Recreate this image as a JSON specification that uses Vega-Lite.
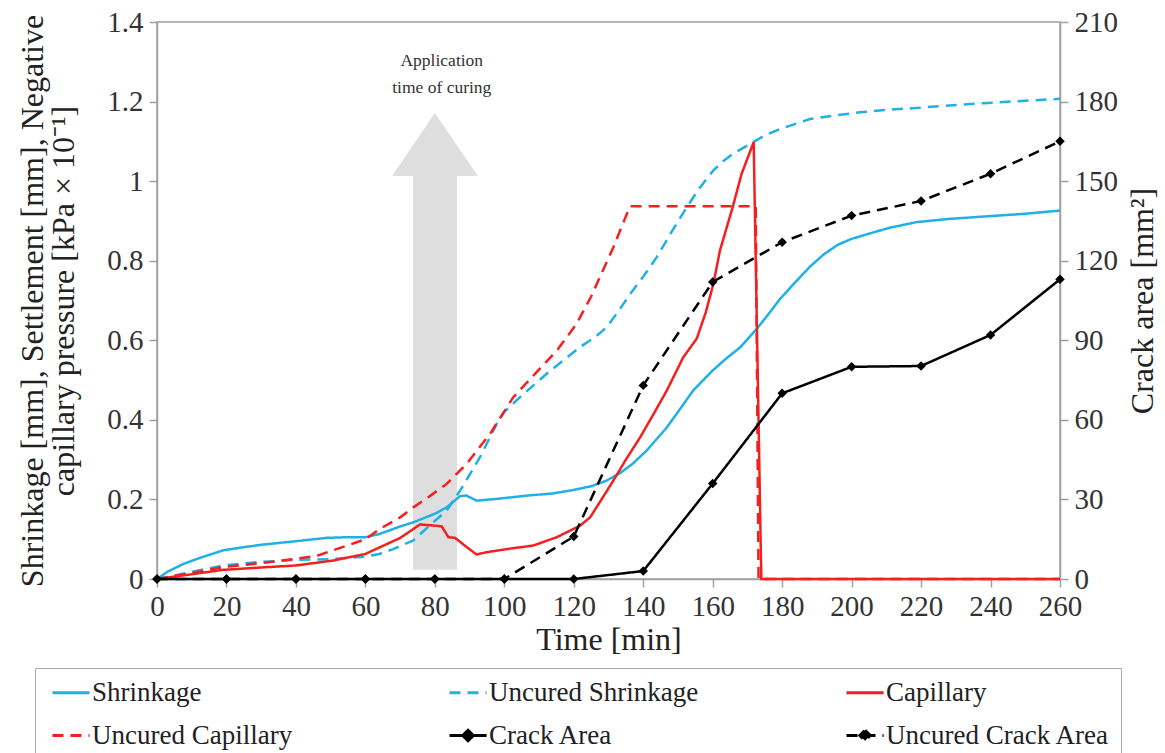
{
  "$schema": "https://vega.github.io/schema/vega-lite/v6.json",
  "width": 903,
  "height": 557,
  "autosize": {"type": "none"},
  "padding": {"left": 157, "top": 22, "right": 105, "bottom": 174},
  "background": "white",
  "config": {
    "view": {"stroke": "#a0a0a0", "strokeWidth": 1.5},
    "font": "Liberation Serif",
    "axis": {
      "domainColor": "#a0a0a0",
      "domainWidth": 1.5,
      "tickColor": "#a0a0a0",
      "tickWidth": 1.5,
      "tickSize": 8,
      "grid": false,
      "labelFont": "Liberation Serif",
      "labelFontSize": 29,
      "labelColor": "#333",
      "titleFont": "Liberation Serif",
      "titleFontSize": 32,
      "titleFontWeight": "normal",
      "titleColor": "#222"
    }
  },
  "datasets": {
    "lines": [
      {"series": "Shrinkage", "t": 0, "v": 0},
      {"series": "Shrinkage", "t": 3, "v": 0.018},
      {"series": "Shrinkage", "t": 7.6, "v": 0.038},
      {"series": "Shrinkage", "t": 12, "v": 0.052},
      {"series": "Shrinkage", "t": 19, "v": 0.072},
      {"series": "Shrinkage", "t": 25, "v": 0.08},
      {"series": "Shrinkage", "t": 30, "v": 0.086},
      {"series": "Shrinkage", "t": 40, "v": 0.095},
      {"series": "Shrinkage", "t": 49, "v": 0.1035},
      {"series": "Shrinkage", "t": 55, "v": 0.105},
      {"series": "Shrinkage", "t": 60, "v": 0.105},
      {"series": "Shrinkage", "t": 64, "v": 0.113},
      {"series": "Shrinkage", "t": 70, "v": 0.132},
      {"series": "Shrinkage", "t": 74, "v": 0.143},
      {"series": "Shrinkage", "t": 80, "v": 0.164},
      {"series": "Shrinkage", "t": 83.4, "v": 0.18},
      {"series": "Shrinkage", "t": 87.2, "v": 0.208},
      {"series": "Shrinkage", "t": 89, "v": 0.21},
      {"series": "Shrinkage", "t": 92, "v": 0.197},
      {"series": "Shrinkage", "t": 98, "v": 0.2015},
      {"series": "Shrinkage", "t": 107, "v": 0.21},
      {"series": "Shrinkage", "t": 114, "v": 0.215},
      {"series": "Shrinkage", "t": 120, "v": 0.224},
      {"series": "Shrinkage", "t": 125, "v": 0.233},
      {"series": "Shrinkage", "t": 129.5, "v": 0.2475},
      {"series": "Shrinkage", "t": 133.3, "v": 0.266},
      {"series": "Shrinkage", "t": 137, "v": 0.29},
      {"series": "Shrinkage", "t": 141, "v": 0.323},
      {"series": "Shrinkage", "t": 146.8, "v": 0.381},
      {"series": "Shrinkage", "t": 150, "v": 0.42},
      {"series": "Shrinkage", "t": 154.4, "v": 0.474},
      {"series": "Shrinkage", "t": 160, "v": 0.524},
      {"series": "Shrinkage", "t": 164, "v": 0.555},
      {"series": "Shrinkage", "t": 168, "v": 0.583},
      {"series": "Shrinkage", "t": 172.7, "v": 0.629},
      {"series": "Shrinkage", "t": 176, "v": 0.665},
      {"series": "Shrinkage", "t": 179.4, "v": 0.704},
      {"series": "Shrinkage", "t": 184, "v": 0.748},
      {"series": "Shrinkage", "t": 188, "v": 0.785},
      {"series": "Shrinkage", "t": 192, "v": 0.816},
      {"series": "Shrinkage", "t": 196, "v": 0.84},
      {"series": "Shrinkage", "t": 200, "v": 0.855},
      {"series": "Shrinkage", "t": 205, "v": 0.868},
      {"series": "Shrinkage", "t": 211, "v": 0.883},
      {"series": "Shrinkage", "t": 218.7, "v": 0.897},
      {"series": "Shrinkage", "t": 228, "v": 0.905},
      {"series": "Shrinkage", "t": 238, "v": 0.911},
      {"series": "Shrinkage", "t": 250, "v": 0.918},
      {"series": "Shrinkage", "t": 260, "v": 0.926},

      {"series": "Uncured Shrinkage", "t": 0, "v": 0},
      {"series": "Uncured Shrinkage", "t": 10, "v": 0.018},
      {"series": "Uncured Shrinkage", "t": 19, "v": 0.034},
      {"series": "Uncured Shrinkage", "t": 30, "v": 0.043},
      {"series": "Uncured Shrinkage", "t": 40, "v": 0.048},
      {"series": "Uncured Shrinkage", "t": 50, "v": 0.05},
      {"series": "Uncured Shrinkage", "t": 55, "v": 0.053},
      {"series": "Uncured Shrinkage", "t": 60, "v": 0.056},
      {"series": "Uncured Shrinkage", "t": 64, "v": 0.063},
      {"series": "Uncured Shrinkage", "t": 68, "v": 0.075},
      {"series": "Uncured Shrinkage", "t": 73.8, "v": 0.097},
      {"series": "Uncured Shrinkage", "t": 79.6, "v": 0.143},
      {"series": "Uncured Shrinkage", "t": 83.4, "v": 0.172},
      {"series": "Uncured Shrinkage", "t": 87.2, "v": 0.221},
      {"series": "Uncured Shrinkage", "t": 90, "v": 0.262},
      {"series": "Uncured Shrinkage", "t": 93, "v": 0.306},
      {"series": "Uncured Shrinkage", "t": 97.8, "v": 0.39},
      {"series": "Uncured Shrinkage", "t": 100, "v": 0.42},
      {"series": "Uncured Shrinkage", "t": 104.5, "v": 0.457},
      {"series": "Uncured Shrinkage", "t": 112.2, "v": 0.516},
      {"series": "Uncured Shrinkage", "t": 121.8, "v": 0.583},
      {"series": "Uncured Shrinkage", "t": 126, "v": 0.607},
      {"series": "Uncured Shrinkage", "t": 129.5, "v": 0.633},
      {"series": "Uncured Shrinkage", "t": 133, "v": 0.675},
      {"series": "Uncured Shrinkage", "t": 136.3, "v": 0.717},
      {"series": "Uncured Shrinkage", "t": 140, "v": 0.76},
      {"series": "Uncured Shrinkage", "t": 143.9, "v": 0.809},
      {"series": "Uncured Shrinkage", "t": 148, "v": 0.87},
      {"series": "Uncured Shrinkage", "t": 152.5, "v": 0.934},
      {"series": "Uncured Shrinkage", "t": 156, "v": 0.98},
      {"series": "Uncured Shrinkage", "t": 160.2, "v": 1.027},
      {"series": "Uncured Shrinkage", "t": 163, "v": 1.05},
      {"series": "Uncured Shrinkage", "t": 165.9, "v": 1.069},
      {"series": "Uncured Shrinkage", "t": 171.7, "v": 1.098},
      {"series": "Uncured Shrinkage", "t": 175, "v": 1.115},
      {"series": "Uncured Shrinkage", "t": 179.4, "v": 1.131},
      {"series": "Uncured Shrinkage", "t": 188, "v": 1.156},
      {"series": "Uncured Shrinkage", "t": 195, "v": 1.165},
      {"series": "Uncured Shrinkage", "t": 202.4, "v": 1.173},
      {"series": "Uncured Shrinkage", "t": 210, "v": 1.179},
      {"series": "Uncured Shrinkage", "t": 218.7, "v": 1.184},
      {"series": "Uncured Shrinkage", "t": 228, "v": 1.19},
      {"series": "Uncured Shrinkage", "t": 237.9, "v": 1.196},
      {"series": "Uncured Shrinkage", "t": 250, "v": 1.202},
      {"series": "Uncured Shrinkage", "t": 260, "v": 1.207},

      {"series": "Uncured Capillary", "t": 0, "v": 0},
      {"series": "Uncured Capillary", "t": 10, "v": 0.015},
      {"series": "Uncured Capillary", "t": 19, "v": 0.03},
      {"series": "Uncured Capillary", "t": 30, "v": 0.04},
      {"series": "Uncured Capillary", "t": 40, "v": 0.051},
      {"series": "Uncured Capillary", "t": 46, "v": 0.058},
      {"series": "Uncured Capillary", "t": 50, "v": 0.07},
      {"series": "Uncured Capillary", "t": 55, "v": 0.085},
      {"series": "Uncured Capillary", "t": 60, "v": 0.1},
      {"series": "Uncured Capillary", "t": 64.2, "v": 0.126},
      {"series": "Uncured Capillary", "t": 70, "v": 0.155},
      {"series": "Uncured Capillary", "t": 73.8, "v": 0.18},
      {"series": "Uncured Capillary", "t": 78, "v": 0.205},
      {"series": "Uncured Capillary", "t": 83.4, "v": 0.239},
      {"series": "Uncured Capillary", "t": 89.2, "v": 0.29},
      {"series": "Uncured Capillary", "t": 95.9, "v": 0.365},
      {"series": "Uncured Capillary", "t": 102.6, "v": 0.457},
      {"series": "Uncured Capillary", "t": 109.3, "v": 0.52},
      {"series": "Uncured Capillary", "t": 115.1, "v": 0.574},
      {"series": "Uncured Capillary", "t": 120.8, "v": 0.641},
      {"series": "Uncured Capillary", "t": 125, "v": 0.71},
      {"series": "Uncured Capillary", "t": 131.4, "v": 0.834},
      {"series": "Uncured Capillary", "t": 136.2, "v": 0.937},
      {"series": "Uncured Capillary", "t": 172.4, "v": 0.937},
      {"series": "Uncured Capillary", "t": 173.2, "v": 0},
      {"series": "Uncured Capillary", "t": 260, "v": 0},

      {"series": "Capillary", "t": 0, "v": 0},
      {"series": "Capillary", "t": 10, "v": 0.012},
      {"series": "Capillary", "t": 19, "v": 0.023},
      {"series": "Capillary", "t": 30, "v": 0.029},
      {"series": "Capillary", "t": 40, "v": 0.034},
      {"series": "Capillary", "t": 50.8, "v": 0.0465},
      {"series": "Capillary", "t": 60, "v": 0.063},
      {"series": "Capillary", "t": 64.2, "v": 0.08},
      {"series": "Capillary", "t": 70, "v": 0.103},
      {"series": "Capillary", "t": 75.7, "v": 0.137},
      {"series": "Capillary", "t": 79.6, "v": 0.1345},
      {"series": "Capillary", "t": 82, "v": 0.132},
      {"series": "Capillary", "t": 83.9, "v": 0.105},
      {"series": "Capillary", "t": 85.8, "v": 0.1035},
      {"series": "Capillary", "t": 89.2, "v": 0.08},
      {"series": "Capillary", "t": 92, "v": 0.0616},
      {"series": "Capillary", "t": 94.9, "v": 0.0674},
      {"series": "Capillary", "t": 102.6, "v": 0.0775},
      {"series": "Capillary", "t": 108.3, "v": 0.084},
      {"series": "Capillary", "t": 115.1, "v": 0.105},
      {"series": "Capillary", "t": 121.8, "v": 0.134},
      {"series": "Capillary", "t": 124.7, "v": 0.155},
      {"series": "Capillary", "t": 128, "v": 0.2},
      {"series": "Capillary", "t": 131.4, "v": 0.2475},
      {"series": "Capillary", "t": 135, "v": 0.3},
      {"series": "Capillary", "t": 139.1, "v": 0.356},
      {"series": "Capillary", "t": 143, "v": 0.415},
      {"series": "Capillary", "t": 146.8, "v": 0.474},
      {"series": "Capillary", "t": 151.5, "v": 0.557},
      {"series": "Capillary", "t": 155.4, "v": 0.604},
      {"series": "Capillary", "t": 158, "v": 0.67},
      {"series": "Capillary", "t": 160.2, "v": 0.742},
      {"series": "Capillary", "t": 162.1, "v": 0.826},
      {"series": "Capillary", "t": 165.9, "v": 0.939},
      {"series": "Capillary", "t": 168.3, "v": 1.018},
      {"series": "Capillary", "t": 171.8, "v": 1.098},
      {"series": "Capillary", "t": 174, "v": 0},
      {"series": "Capillary", "t": 260, "v": 0}
    ],
    "crack": [
      {"series": "Crack Area", "t": 0, "a": 0},
      {"series": "Crack Area", "t": 20, "a": 0},
      {"series": "Crack Area", "t": 40, "a": 0},
      {"series": "Crack Area", "t": 60, "a": 0},
      {"series": "Crack Area", "t": 80, "a": 0},
      {"series": "Crack Area", "t": 100, "a": 0},
      {"series": "Crack Area", "t": 120, "a": 0},
      {"series": "Crack Area", "t": 140, "a": 3},
      {"series": "Crack Area", "t": 160, "a": 36},
      {"series": "Crack Area", "t": 180, "a": 70},
      {"series": "Crack Area", "t": 200, "a": 80},
      {"series": "Crack Area", "t": 220, "a": 80.3},
      {"series": "Crack Area", "t": 240, "a": 92},
      {"series": "Crack Area", "t": 260, "a": 113},
      {"series": "Uncured Crack Area", "t": 0, "a": 0},
      {"series": "Uncured Crack Area", "t": 20, "a": 0},
      {"series": "Uncured Crack Area", "t": 40, "a": 0},
      {"series": "Uncured Crack Area", "t": 60, "a": 0},
      {"series": "Uncured Crack Area", "t": 80, "a": 0},
      {"series": "Uncured Crack Area", "t": 100, "a": 0},
      {"series": "Uncured Crack Area", "t": 120, "a": 16},
      {"series": "Uncured Crack Area", "t": 140, "a": 73},
      {"series": "Uncured Crack Area", "t": 160, "a": 112},
      {"series": "Uncured Crack Area", "t": 180, "a": 127},
      {"series": "Uncured Crack Area", "t": 200, "a": 137},
      {"series": "Uncured Crack Area", "t": 220, "a": 142.5},
      {"series": "Uncured Crack Area", "t": 240, "a": 152.8},
      {"series": "Uncured Crack Area", "t": 260, "a": 165}
    ],
    "shaft": [{"t": 73.7, "t2": 86.4, "v": 0.023, "v2": 1.013}],
    "head": [
      {"t": 67.7, "v": 1.013, "v2": 1.013},
      {"t": 80, "v": 1.171, "v2": 1.013},
      {"t": 92.4, "v": 1.013, "v2": 1.013}
    ],
    "note": [
      {"t": 82, "v": 1.303, "label": "Application"},
      {"t": 82, "v": 1.235, "label": "time of curing"}
    ]
  },
  "layer": [
    {
      "layer": [
        {
          "data": {"name": "shaft"},
          "mark": {"type": "rect", "color": "#dedede"},
          "encoding": {
            "x": {"field": "t", "type": "quantitative", "scale": {"domain": [0, 260], "nice": false}},
            "x2": {"field": "t2"},
            "y": {"field": "v", "type": "quantitative", "scale": {"domain": [0, 1.4], "nice": false}},
            "y2": {"field": "v2"}
          }
        },
        {
          "data": {"name": "head"},
          "mark": {"type": "area", "color": "#dedede"},
          "encoding": {
            "x": {"field": "t", "type": "quantitative"},
            "y": {"field": "v", "type": "quantitative"},
            "y2": {"field": "v2"}
          }
        },
        {
          "data": {"name": "note"},
          "mark": {"type": "text", "font": "Liberation Serif", "fontSize": 17.5, "color": "#333", "align": "center", "baseline": "middle"},
          "encoding": {
            "x": {"field": "t", "type": "quantitative"},
            "y": {"field": "v", "type": "quantitative"},
            "text": {"field": "label"}
          }
        },
        {
          "data": {"name": "lines"},
          "mark": {"type": "line", "strokeWidth": 2.5},
          "encoding": {
            "x": {
              "field": "t", "type": "quantitative",
              "axis": {"title": "Time [min]", "values": [0,20,40,60,80,100,120,140,160,180,200,220,240,260], "labelFlush": false, "labelPadding": 5, "titlePadding": 3}
            },
            "y": {
              "field": "v", "type": "quantitative",
              "axis": {
                "title": ["Shrinkage [mm], Settlement [mm], Negative", "capillary pressure [kPa × 10⁻¹]"],
                "values": [0, 0.2, 0.4, 0.6, 0.8, 1, 1.2, 1.4],
                "format": "~g",
                "labelFlush": false,
                "labelPadding": 6,
                "titlePadding": 26,
                "titleLineHeight": 31
              }
            },
            "color": {
              "field": "series", "type": "nominal",
              "scale": {
                "domain": ["Shrinkage", "Uncured Shrinkage", "Capillary", "Uncured Capillary", "Crack Area", "Uncured Crack Area"],
                "range": ["#1fb0e6", "#1fb0e6", "#f51f1f", "#f51f1f", "#000000", "#000000"]
              },
              "legend": {
                "orient": "none",
                "legendX": -122,
                "legendY": 646,
                "title": null,
                "columns": 3,
                "direction": "horizontal",
                "gridAlign": "all",
                "columnPadding": 127,
                "rowPadding": 15,
                "padding": 11,
                "strokeColor": "#aaaaaa",
                "symbolType": "M-1,0H4.3",
                "symbolSize": 196,
                "symbolStrokeWidth": 3,
                "labelFont": "Liberation Serif",
                "labelFontSize": 27,
                "labelColor": "#222",
                "labelOffset": 19,
                "labelLimit": 400,
                "encode": {
                  "symbols": {
                    "update": {
                      "shape": {"signal": "indexof(['Crack Area','Uncured Crack Area'], datum.value) >= 0 ? 'M-1,0H4.3M1.65,-0.75L2.4,0L1.65,0.75L0.9,0Z' : 'M-1,0H4.3'"},
                      "fill": {"signal": "indexof(['Crack Area','Uncured Crack Area'], datum.value) >= 0 ? 'black' : 'transparent'"}
                    }
                  }
                }
              }
            },
            "strokeDash": {
              "field": "series", "type": "nominal",
              "scale": {
                "domain": ["Shrinkage", "Uncured Shrinkage", "Capillary", "Uncured Capillary", "Crack Area", "Uncured Crack Area"],
                "range": [[1, 0], [11, 7], [1, 0], [11, 7], [1, 0], [11, 7]]
              }
            }
          }
        }
      ]
    },
    {
      "data": {"name": "crack"},
      "encoding": {
        "x": {"field": "t", "type": "quantitative"},
        "y": {
          "field": "a", "type": "quantitative",
          "scale": {"domain": [0, 210], "nice": false},
          "axis": {
            "orient": "right",
            "title": "Crack area [mm²]",
            "titleAngle": -90,
            "titleBaseline": "top",
            "values": [0, 30, 60, 90, 120, 150, 180, 210],
            "labelFlush": false,
            "labelPadding": 6,
            "titlePadding": 10
          }
        }
      },
      "layer": [
        {
          "mark": {"type": "line", "strokeWidth": 2.5},
          "encoding": {
            "color": {"field": "series", "type": "nominal"},
            "strokeDash": {"field": "series", "type": "nominal"}
          }
        },
        {
          "mark": {"type": "point", "shape": "diamond", "filled": true, "color": "black", "size": 90, "opacity": 1}
        }
      ]
    }
  ],
  "resolve": {"scale": {"y": "independent"}}
}
